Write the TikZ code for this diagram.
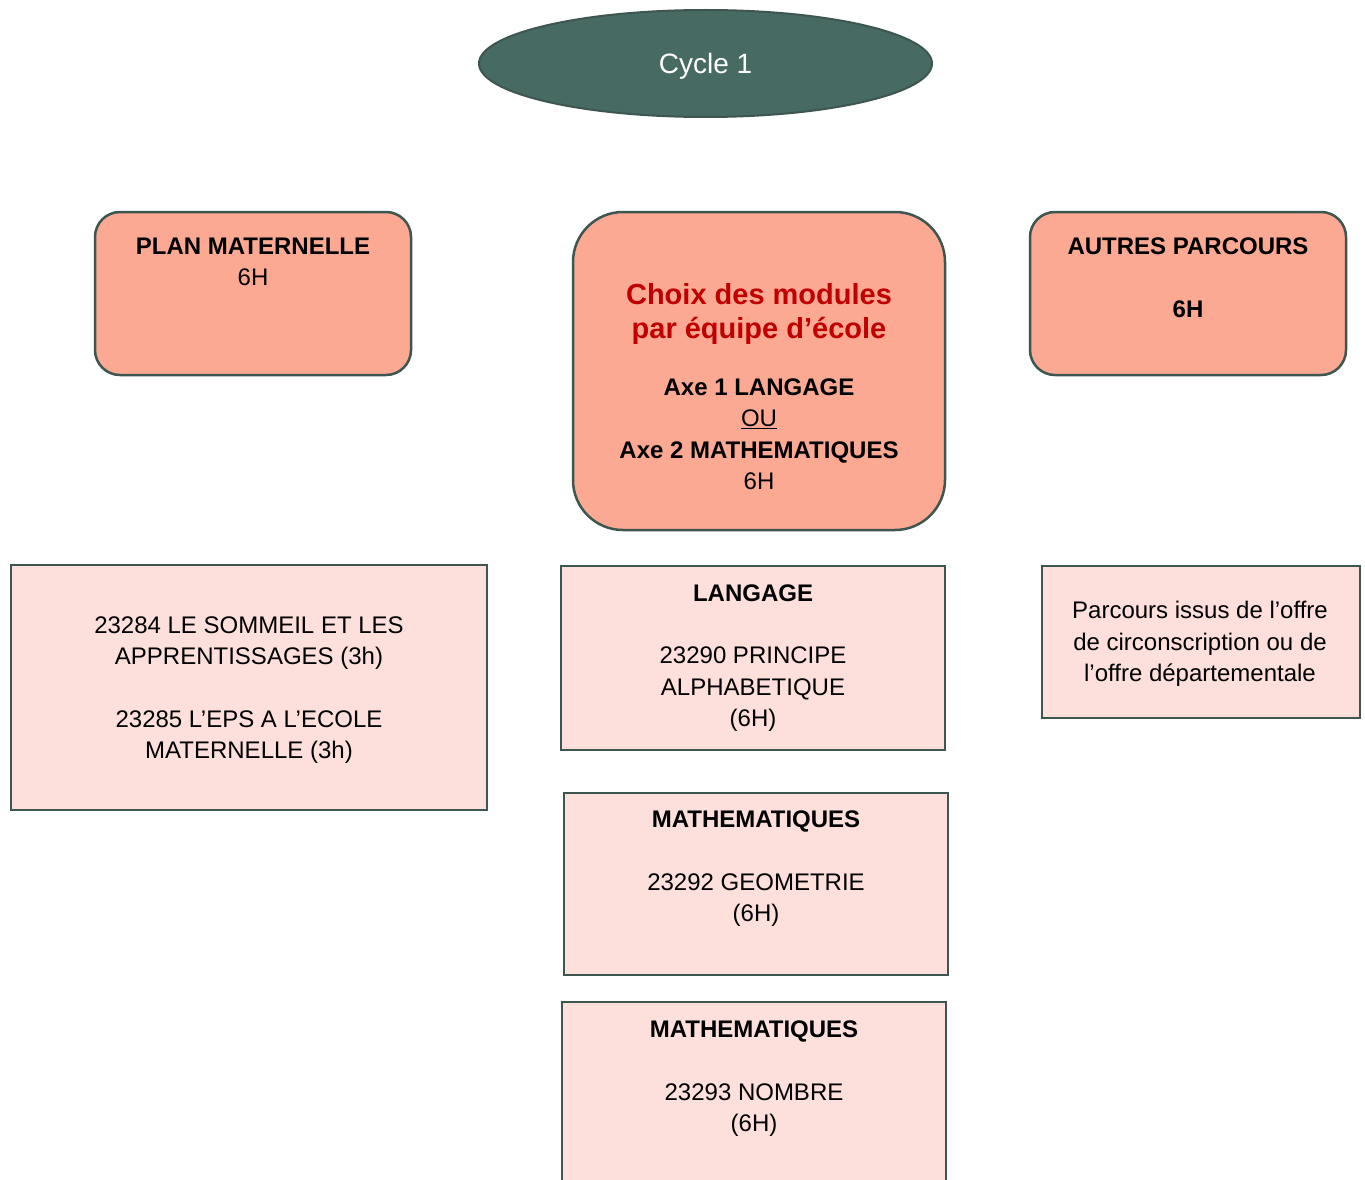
\documentclass[tikz,border=0pt]{standalone}
\usepackage{fontspec}
\setmainfont{Liberation Sans}
\usetikzlibrary{shapes.geometric}
\definecolor{ellfill}{RGB}{71,106,98}
\definecolor{edge}{RGB}{62,86,80}
\definecolor{salmon}{RGB}{252,169,148}
\definecolor{pinkbg}{RGB}{253,224,219}
\definecolor{redtxt}{RGB}{192,0,0}
\tikzset{
  roundbox/.style={draw=edge, line width=2.5pt, fill=salmon, rounded corners=25pt, inner sep=0pt},
  plainbox/.style={draw=edge, line width=2.5pt, fill=pinkbg, inner sep=0pt},
  txt/.style={anchor=base, align=center, inner sep=0pt, font=\fontsize{24}{31.4}\selectfont},
  redt/.style={anchor=base, align=center, inner sep=0pt, text=redtxt, font=\fontsize{29}{34}\selectfont\bfseries}
}
\begin{document}
\begin{tikzpicture}[x=1pt,y=-1pt]
\useasboundingbox (0,0) rectangle (1365,1180);
\clip (0,0) rectangle (1365,1180);
\fill[white] (0,0) rectangle (1365,1180);

% ellipse
\node (cycle) [ellipse, draw=edge, line width=2pt, fill=ellfill, minimum width=453pt, minimum height=107pt, inner sep=0pt,
  text=white, text depth=0pt, font=\fontsize{28}{32}\selectfont] at (705.5,63.5) {Cycle 1};

% top row
\node (plan) [roundbox, minimum width=316pt, minimum height=163pt] at (253,293.5) {};
\node (plant) [txt] at (253,285.6) {\textbf{PLAN MATERNELLE}\\6H};

\node (choix) [roundbox, rounded corners=50pt, minimum width=372pt, minimum height=318pt] at (759,371) {};
\node (choixr) [redt] at (759,338.4) {Choix des modules\\par équipe d’école};
\node (choixb) [txt] at (759,489.6) {\textbf{Axe 1 LANGAGE}\\\underline{OU}\\\textbf{Axe 2 MATHEMATIQUES}\\6H};

\node (autres) [roundbox, minimum width=316pt, minimum height=163pt] at (1188,293.5) {};
\node (autrest) [txt] at (1188,317.6) {\textbf{AUTRES PARCOURS}\\[0.6pt]~\\\textbf{6H}};

% second row
\node (sommeil) [plainbox, minimum width=476pt, minimum height=245pt] at (249,687.5) {};
\node (sommeilt) [txt] at (249,758.6) {23284 LE SOMMEIL ET LES\\APPRENTISSAGES (3h)\\~\\23285 L’EPS A L’ECOLE\\MATERNELLE (3h)};

\node (langage) [plainbox, minimum width=384pt, minimum height=184pt] at (753,658) {};
\node (langaget) [txt] at (753,726.6) {\textbf{LANGAGE}\\~\\23290 PRINCIPE\\ALPHABETIQUE\\(6H)};

\node (offre) [plainbox, minimum width=318pt, minimum height=152pt] at (1201,642) {};
\node (offret) [txt] at (1200,681.6) {Parcours issus de l’offre\\de circonscription ou de\\l’offre départementale};

\node (geom) [plainbox, minimum width=384pt, minimum height=182pt] at (756,884) {};
\node (geomt) [txt] at (756,921.6) {\textbf{MATHEMATIQUES}\\~\\23292 GEOMETRIE\\(6H)};

\node (nombre) [plainbox, minimum width=384pt, minimum height=200pt] at (754,1102) {};
\node (nombret) [txt] at (754,1131.6) {\textbf{MATHEMATIQUES}\\~\\23293 NOMBRE\\(6H)};
\end{tikzpicture}
\end{document}
